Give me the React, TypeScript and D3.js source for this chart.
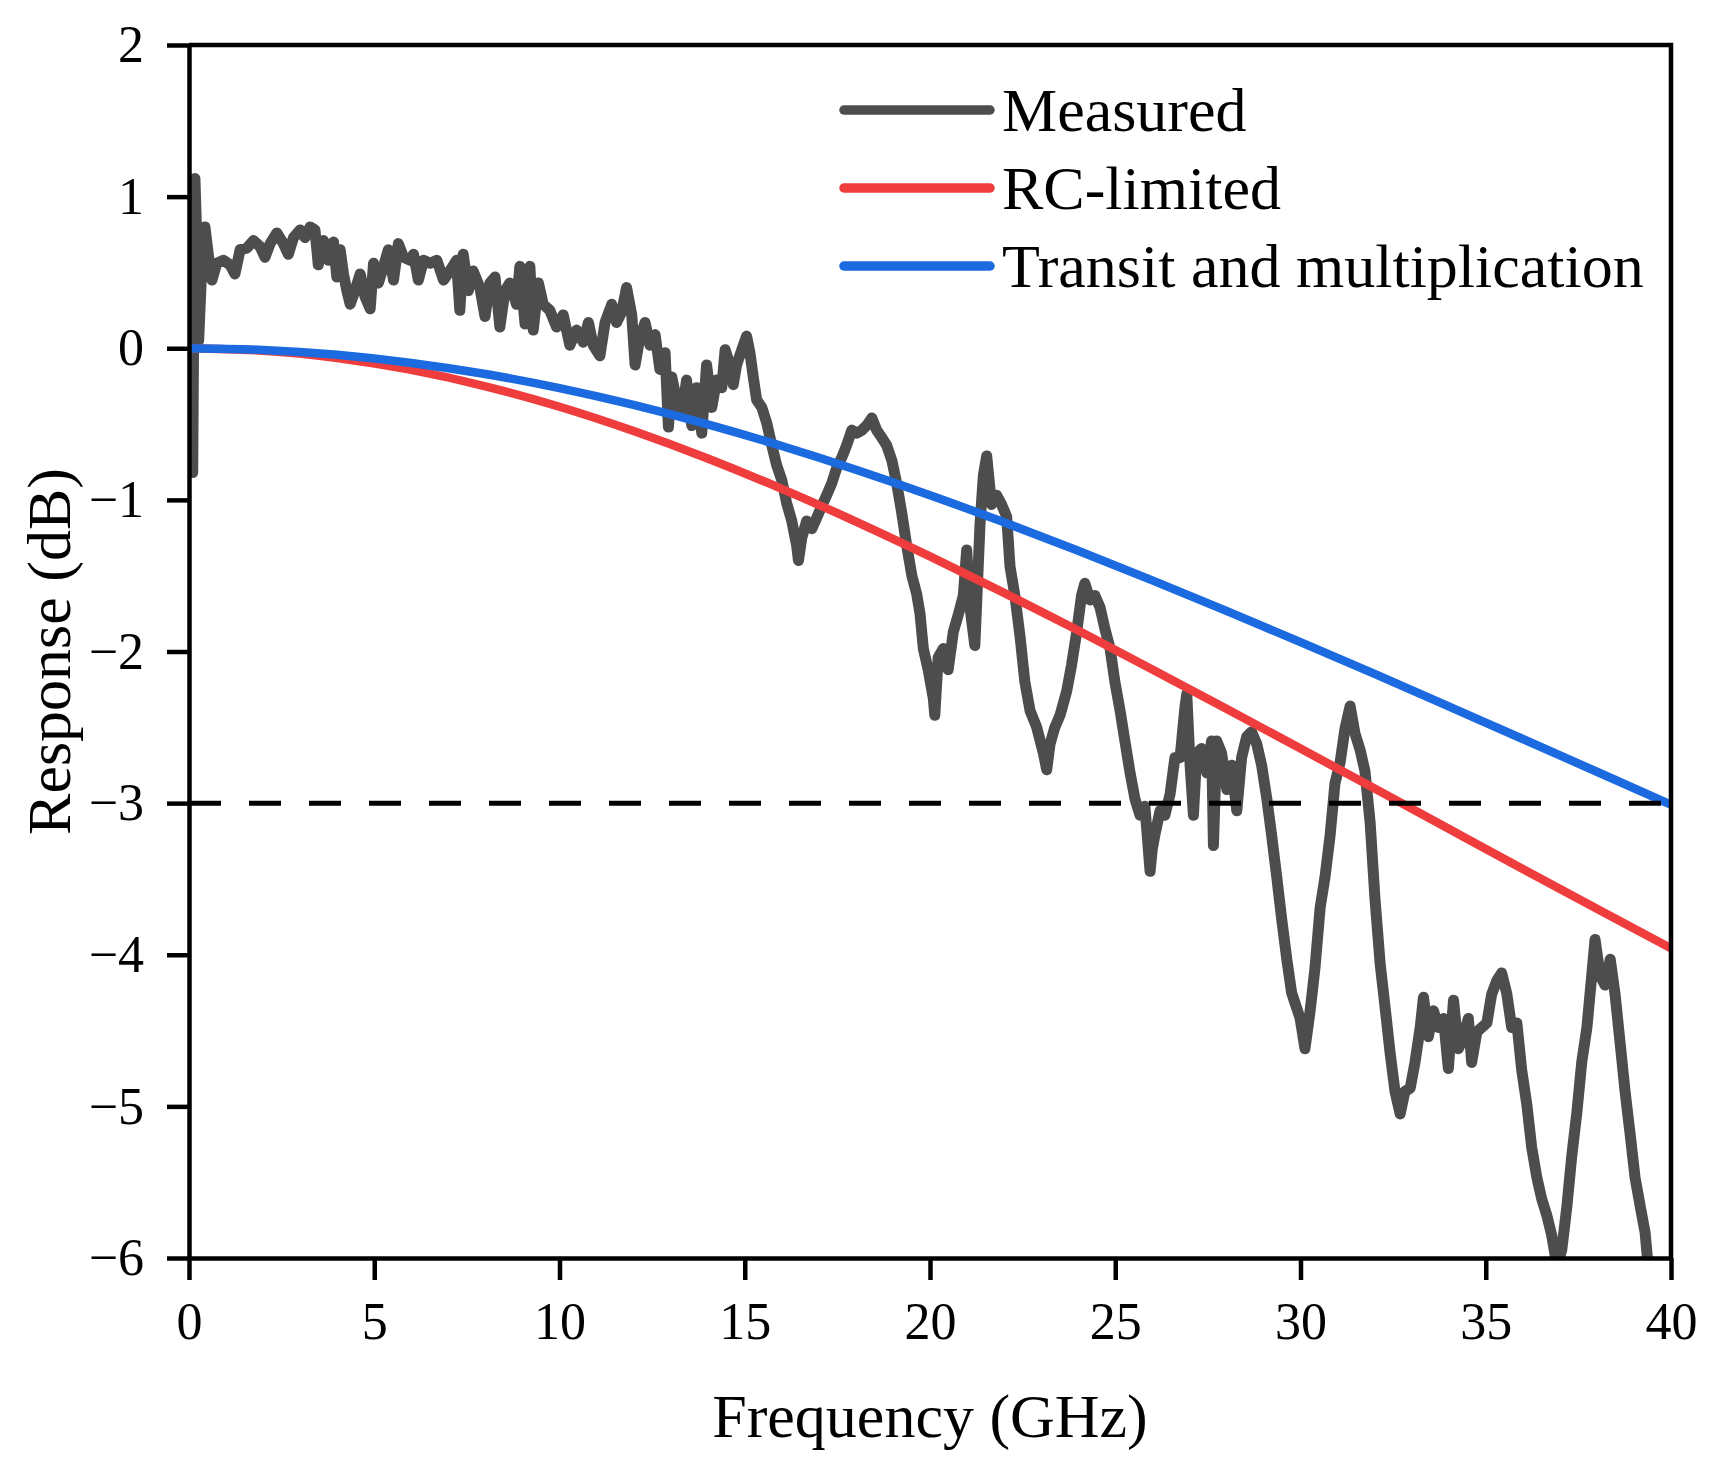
import * as d3 from 'd3';
import React, {useEffect, useRef} from 'react';

// axis ticks
const freqTicks = [0, 5, 10, 15, 20, 25, 30, 35, 40];
const dbTicks = [-6, -5, -4, -3, -2, -1, 0, 1, 2];

// model curves, sampled every 2 GHz
const modelFreq = [0, 2, 4, 6, 8, 10, 12, 14, 16, 18, 20, 22, 24, 26, 28, 30, 32, 34, 36, 38, 40];
const rcLimited = [0, -0.016, -0.064, -0.143, -0.251, -0.386, -0.546, -0.727, -0.927, -1.143, -1.373,
  -1.613, -1.862, -2.118, -2.378, -2.640, -2.904, -3.169, -3.434, -3.696, -3.957];
const transitMult = [0, -0.011, -0.043, -0.097, -0.170, -0.263, -0.374, -0.502, -0.645, -0.801, -0.969,
  -1.148, -1.335, -1.531, -1.732, -1.938, -2.148, -2.362, -2.577, -2.793, -3.010];

const measured: Array<[number, number]> = [
  [0.00, 0.00], [0.05, -0.35], [0.10, -0.82], [0.13, 0.30], [0.16, 1.12], [0.20, 0.80], [0.26, 0.05],
  [0.33, 0.45], [0.43, 0.80], [0.52, 0.62], [0.62, 0.45], [0.75, 0.56], [0.93, 0.58], [1.11, 0.55],
  [1.24, 0.49], [1.38, 0.65], [1.56, 0.66], [1.74, 0.71], [1.92, 0.67], [2.05, 0.60], [2.19, 0.69],
  [2.37, 0.76], [2.55, 0.69], [2.68, 0.62], [2.82, 0.73], [3.00, 0.78], [3.13, 0.73], [3.27, 0.80],
  [3.40, 0.78], [3.49, 0.55], [3.63, 0.71], [3.76, 0.58], [3.90, 0.70], [3.99, 0.47], [4.08, 0.65],
  [4.17, 0.49], [4.26, 0.38], [4.35, 0.29], [4.48, 0.38], [4.62, 0.49], [4.75, 0.34], [4.89, 0.26],
  [4.98, 0.56], [5.11, 0.43], [5.25, 0.54], [5.38, 0.65], [5.52, 0.45], [5.65, 0.69], [5.79, 0.60],
  [5.97, 0.58], [6.06, 0.62], [6.19, 0.45], [6.33, 0.58], [6.51, 0.56], [6.69, 0.58], [6.87, 0.45],
  [7.04, 0.51], [7.22, 0.58], [7.31, 0.25], [7.40, 0.62], [7.54, 0.38], [7.67, 0.51], [7.85, 0.40],
  [7.99, 0.21], [8.12, 0.43], [8.26, 0.47], [8.39, 0.14], [8.53, 0.38], [8.66, 0.43], [8.84, 0.29],
  [8.93, 0.54], [9.07, 0.16], [9.20, 0.54], [9.29, 0.12], [9.43, 0.43], [9.56, 0.29], [9.74, 0.25],
  [9.92, 0.14], [10.10, 0.22], [10.28, 0.02], [10.46, 0.12], [10.64, 0.04], [10.78, 0.17], [10.91, 0.02],
  [11.09, -0.05], [11.23, 0.17], [11.41, 0.29], [11.54, 0.17], [11.68, 0.24], [11.81, 0.40], [11.95, 0.22],
  [12.04, -0.11], [12.17, 0.07], [12.31, 0.17], [12.44, 0.02], [12.58, 0.09], [12.71, -0.14], [12.85, -0.03],
  [12.94, -0.52], [13.03, -0.19], [13.16, -0.34], [13.30, -0.44], [13.43, -0.21], [13.57, -0.51], [13.70, -0.26],
  [13.84, -0.56], [13.97, -0.11], [14.11, -0.39], [14.24, -0.21], [14.38, -0.26], [14.47, -0.01], [14.60, -0.11],
  [14.69, -0.24], [14.78, -0.11], [14.92, -0.01], [15.05, 0.08], [15.14, -0.03], [15.23, -0.19], [15.32, -0.34],
  [15.46, -0.39], [15.59, -0.49], [15.73, -0.64], [15.86, -0.77], [16.00, -0.87], [16.13, -1.02], [16.27, -1.14],
  [16.40, -1.30], [16.45, -1.40], [16.54, -1.25], [16.67, -1.14], [16.81, -1.19], [16.94, -1.12], [17.08, -1.04],
  [17.21, -0.97], [17.35, -0.89], [17.48, -0.79], [17.62, -0.72], [17.75, -0.64], [17.89, -0.54], [18.02, -0.56],
  [18.16, -0.54], [18.29, -0.51], [18.43, -0.46], [18.56, -0.54], [18.70, -0.59], [18.83, -0.64], [18.97, -0.74],
  [19.10, -0.89], [19.24, -1.09], [19.37, -1.30], [19.51, -1.50], [19.64, -1.62], [19.73, -1.75], [19.82, -1.98],
  [19.95, -2.12], [20.09, -2.31], [20.13, -2.42], [20.22, -2.04], [20.36, -1.98], [20.49, -2.12], [20.63, -1.87],
  [20.76, -1.76], [20.90, -1.63], [20.99, -1.33], [21.08, -1.71], [21.21, -1.96], [21.35, -1.16], [21.44, -0.84],
  [21.53, -0.71], [21.66, -1.03], [21.80, -0.97], [21.93, -1.03], [22.07, -1.11], [22.16, -1.44], [22.29, -1.63],
  [22.43, -1.90], [22.56, -2.20], [22.70, -2.39], [22.88, -2.50], [23.06, -2.67], [23.15, -2.78], [23.24, -2.61],
  [23.37, -2.50], [23.51, -2.42], [23.69, -2.26], [23.82, -2.09], [23.96, -1.87], [24.09, -1.63], [24.18, -1.55],
  [24.32, -1.66], [24.45, -1.63], [24.59, -1.71], [24.72, -1.85], [24.86, -1.98], [24.99, -2.20], [25.13, -2.39],
  [25.26, -2.59], [25.40, -2.80], [25.53, -2.97], [25.67, -3.08], [25.80, -3.02], [25.94, -3.45], [26.00, -3.30],
  [26.07, -3.21], [26.21, -3.05], [26.34, -3.08], [26.48, -2.94], [26.61, -2.70], [26.75, -2.70], [26.88, -2.37],
  [26.93, -2.28], [27.02, -2.75], [27.11, -3.08], [27.20, -2.67], [27.33, -2.64], [27.47, -2.80], [27.60, -2.59],
  [27.65, -3.28], [27.74, -2.59], [27.87, -2.67], [28.01, -2.91], [28.14, -2.75], [28.28, -3.05], [28.41, -2.70],
  [28.55, -2.56], [28.68, -2.53], [28.82, -2.61], [28.95, -2.75], [29.09, -2.97], [29.22, -3.21], [29.36, -3.49],
  [29.49, -3.76], [29.63, -4.03], [29.76, -4.25], [29.99, -4.42], [30.12, -4.62], [30.26, -4.37], [30.39, -4.09],
  [30.53, -3.69], [30.66, -3.49], [30.80, -3.21], [30.93, -2.87], [31.07, -2.73], [31.20, -2.51], [31.34, -2.36],
  [31.47, -2.54], [31.61, -2.65], [31.74, -2.79], [31.88, -3.13], [32.01, -3.63], [32.15, -4.06], [32.28, -4.34],
  [32.42, -4.65], [32.55, -4.90], [32.69, -5.05], [32.82, -4.90], [32.96, -4.88], [33.09, -4.71], [33.23, -4.48],
  [33.32, -4.28], [33.45, -4.54], [33.59, -4.37], [33.72, -4.48], [33.86, -4.42], [33.99, -4.75], [34.13, -4.30],
  [34.26, -4.62], [34.40, -4.54], [34.53, -4.42], [34.62, -4.71], [34.76, -4.51], [34.89, -4.48], [35.03, -4.45],
  [35.16, -4.26], [35.30, -4.17], [35.43, -4.12], [35.57, -4.26], [35.70, -4.48], [35.84, -4.45], [35.97, -4.76],
  [36.11, -4.99], [36.24, -5.27], [36.38, -5.47], [36.51, -5.61], [36.65, -5.72], [36.78, -5.85], [36.92, -6.05],
  [37.05, -5.95], [37.19, -5.66], [37.32, -5.33], [37.46, -5.04], [37.59, -4.71], [37.73, -4.48], [37.86, -4.14],
  [37.95, -3.90], [38.09, -4.14], [38.22, -4.20], [38.36, -4.03], [38.49, -4.26], [38.63, -4.59], [38.76, -4.90],
  [38.90, -5.19], [39.03, -5.47], [39.17, -5.66], [39.30, -5.83], [39.40, -6.10]
];

const seriesNames = ['Measured', 'RC-limited', 'Transit and multiplication'];
const seriesColors = ['#4d4d4d', '#ef3d3d', '#1c6ae0'];
const cutoffDb = -3;

const W = 1717;
const H = 1470;
const font = '"Liberation Serif", "Times New Roman", serif';

const App: React.FC = () => {
  const svgRef = useRef<SVGSVGElement>(null);

  useEffect(() => {
    const svg = d3.select(svgRef.current);
    svg.selectAll('*').remove();

    const x = d3.scaleLinear().domain([0, 40]).range([189, 1671]);
    const y = d3.scaleLinear().domain([-6, 2]).range([1258, 45]);

    svg.append('defs').append('clipPath').attr('id', 'plot-clip')
      .append('rect')
      .attr('x', x(0)).attr('y', y(2))
      .attr('width', x(40) - x(0)).attr('height', y(-6) - y(2));

    const lines = svg.append('g').attr('clip-path', 'url(#plot-clip)');

    const measLine = d3.line<[number, number]>()
      .x(d => x(d[0]))
      .y(d => y(d[1]));

    lines.append('path')
      .datum(measured)
      .attr('fill', 'none')
      .attr('stroke', seriesColors[0])
      .attr('stroke-width', 11)
      .attr('stroke-linejoin', 'round')
      .attr('d', measLine);

    const modelLine = d3.line<number>()
      .x((_, i) => x(modelFreq[i]))
      .y(d => y(d))
      .curve(d3.curveNatural);

    [rcLimited, transitMult].forEach((vals, k) => {
      lines.append('path')
        .datum(vals)
        .attr('fill', 'none')
        .attr('stroke', seriesColors[k + 1])
        .attr('stroke-width', 8.5)
        .attr('d', modelLine);
    });

    // -3 dB reference
    svg.append('line')
      .attr('x1', x(0)).attr('x2', x(40))
      .attr('y1', y(cutoffDb)).attr('y2', y(cutoffDb))
      .attr('stroke', '#000')
      .attr('stroke-width', 5)
      .attr('stroke-dasharray', '32 28');

    // axes
    const xAxis = svg.append('g')
      .attr('transform', `translate(0,${y(-6)})`)
      .call(d3.axisBottom(x).tickValues(freqTicks).tickSize(22).tickSizeOuter(0).tickPadding(22)
        .tickFormat(d3.format('d')));
    const yAxis = svg.append('g')
      .attr('transform', `translate(${x(0)},0)`)
      .call(d3.axisLeft(y).tickValues(dbTicks).tickSize(22).tickSizeOuter(0).tickPadding(23)
        .tickFormat(d3.format('d')));

    [xAxis, yAxis].forEach(ax => {
      ax.selectAll('path, line').attr('stroke', '#000').attr('stroke-width', 4.5);
      ax.selectAll('text')
        .attr('fill', '#000')
        .style('font-family', font)
        .style('font-size', '52px');
    });

    // top and right frame
    svg.append('path')
      .attr('d', `M${x(0)},${y(2)}H${x(40)}V${y(-6)}`)
      .attr('fill', 'none')
      .attr('stroke', '#000')
      .attr('stroke-width', 4.5);

    svg.append('text')
      .attr('x', (x(0) + x(40)) / 2)
      .attr('y', 1437)
      .attr('text-anchor', 'middle')
      .style('font-family', font)
      .style('font-size', '62px')
      .text('Frequency (GHz)');

    svg.append('text')
      .attr('transform', `translate(70,${(y(2) + y(-6)) / 2}) rotate(-90)`)
      .attr('text-anchor', 'middle')
      .style('font-family', font)
      .style('font-size', '62px')
      .text('Response (dB)');

    // legend
    const legend = svg.append('g');
    seriesNames.forEach((name, i) => {
      const ly = 110 + i * 78;
      legend.append('line')
        .attr('x1', 844).attr('x2', 990)
        .attr('y1', ly).attr('y2', ly)
        .attr('stroke', seriesColors[i])
        .attr('stroke-width', 9.5)
        .attr('stroke-linecap', 'round');
      legend.append('text')
        .attr('x', 1002)
        .attr('y', ly + 21)
        .style('font-family', font)
        .style('font-size', '62px')
        .text(name);
    });
  }, []);

  return (
    <div style={{position: 'absolute', left: 0, top: 0}}>
      <svg ref={svgRef} width={W} height={H} style={{display: 'block', background: '#fff'}}/>
    </div>
  );
};

export default App;
